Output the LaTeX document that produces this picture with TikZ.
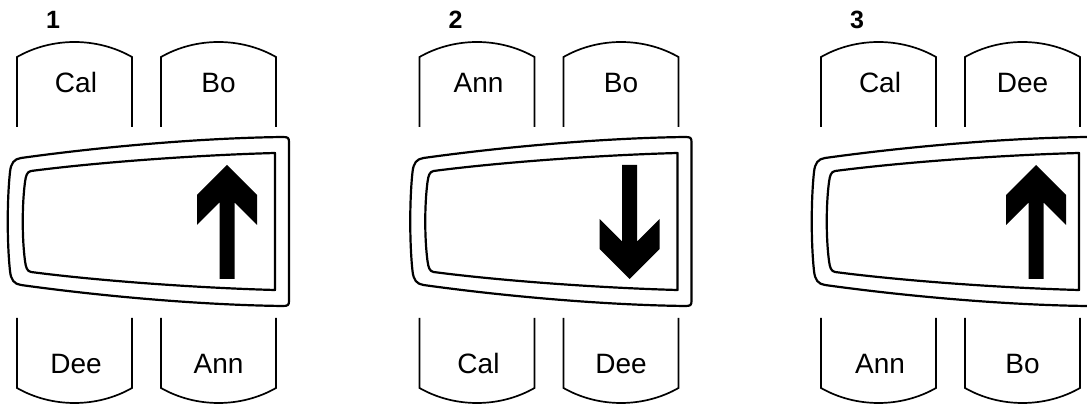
\documentclass[tikz,border=0pt]{standalone}
\usepackage{fontspec}
\setmainfont{Liberation Sans}
\begin{document}
\begin{tikzpicture}[x=0.5pt, y=-0.5pt, every node/.append style={inner sep=0pt},
    seat/.style={line width=0.85pt},
    car/.style={line width=1.1pt, line join=round},
    passenger/.style={font=\fontsize{14}{16}\selectfont, anchor=base},
    panel/.style={font=\bfseries\fontsize{12.5}{14}\selectfont}]
  \useasboundingbox (0,0) rectangle (1087,405);
  \foreach \i/\dx/\ax/\rot/\tl/\tr/\bl/\br in {1/0/227/0/Cal/Bo/Dee/Ann, 2/402.5/227/180/Ann/Bo/Cal/Dee, 3/804/232/0/Cal/Dee/Ann/Bo} {
    \begin{scope}[shift={(\dx,0)}]
      \node[panel] (n\i) at (53,20) {\i};
      % seats
      \foreach \sx in {17,161} {
        \draw[seat] (\sx,127) -- (\sx,57) .. controls (\sx+35,37) and (\sx+80,37) .. (\sx+115,57) -- (\sx+115,127);
        \draw[seat] (\sx,318) -- (\sx,388) .. controls (\sx+35,408) and (\sx+80,408) .. (\sx+115,388) -- (\sx+115,318);
      }
      \node[passenger] (tl\i) at (76,93) {\tl};
      \node[passenger] (tr\i) at (218.5,93) {\tr};
      \node[passenger] (bl\i) at (76,374) {\bl};
      \node[passenger] (br\i) at (218.5,374) {\br};
      % car
      \draw[car] (289,142) .. controls (289,138) and (288,137) .. (283,137)
        .. controls (200,138) and (100,147) .. (21,158)
        .. controls (14,159) and (11,163) .. (10,172)
        .. controls (7,200) and (7,243) .. (10,271)
        .. controls (11,280) and (14,284) .. (21,285)
        .. controls (100,296) and (200,305) .. (283,306)
        .. controls (288,306) and (289,305) .. (289,301) -- cycle;
      \draw[car] (275,153) .. controls (200,155) and (100,162) .. (31,171)
        .. controls (27,172) and (26,175) .. (25,182)
        .. controls (22,205) and (22,238) .. (25,261)
        .. controls (26,268) and (27,271) .. (31,272)
        .. controls (100,281) and (200,288) .. (275,290) -- cycle;
      % direction
      \fill[shift={(\ax,222)}, rotate=\rot] (0,-57) -- (30,-27) -- (30,3) -- (7.5,-19.5) -- (7.5,57)
        -- (-7.5,57) -- (-7.5,-19.5) -- (-30,3) -- (-30,-27) -- cycle;
    \end{scope}
  }
\end{tikzpicture}
\end{document}
